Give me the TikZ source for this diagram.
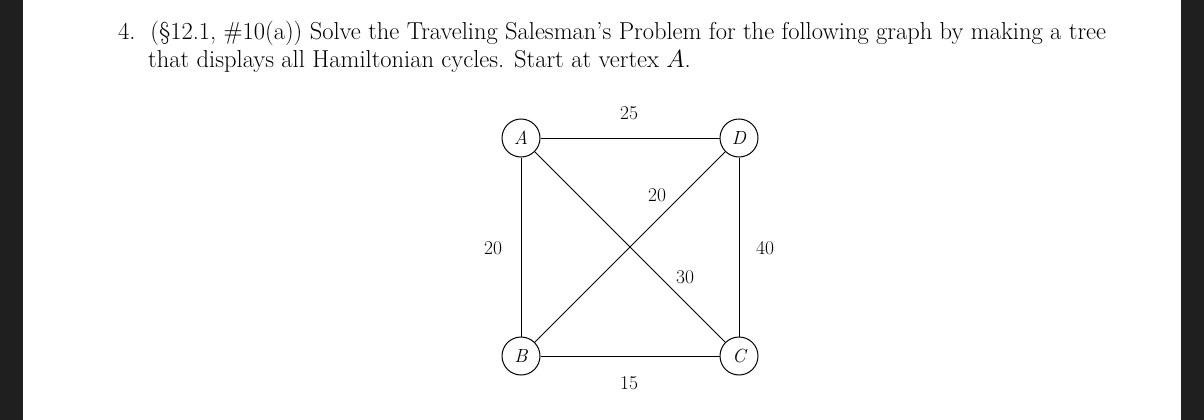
\documentclass[tikz,border=0pt]{standalone}
\begin{document}
\begin{tikzpicture}[x=1pt,y=-1pt,
  vert/.style={circle,draw,line width=1pt,minimum size=38pt,inner sep=0pt,font=\fontsize{19}{22}\selectfont\itshape,fill=white},
  edge/.style={line width=1pt},
  wlab/.style={font=\fontsize{19.5}{22}\selectfont,inner sep=1pt},
  txt/.style={font=\fontsize{24.5}{28}\selectfont,anchor=base west,inner sep=0pt}]
\useasboundingbox (0,0) rectangle (1204,420);
\fill[black!88] (0,0) rectangle (23,420);
\fill[black!88] (1181,0) rectangle (1204,420);
\node[txt] (l1) at (118,40) {4.\ \ (\S12.1, \#10(a)) Solve the Traveling Salesman's Problem for the following graph by making a tree};
\node[txt] (l2) at (148,67) {that displays all Hamiltonian cycles. Start at vertex $A$.};
\node[vert] (A) at (521,138) {A};
\node[vert] (D) at (739,138) {D};
\node[vert] (B) at (521,356) {B};
\node[vert] (C) at (739,356) {C};
\draw[edge] (A) -- (D);
\draw[edge] (B) -- (C);
\draw[edge] (A) -- (B);
\draw[edge] (D) -- (C);
\draw[edge] (A) -- (C);
\draw[edge] (B) -- (D);
\node[wlab] (w1) at (629,113) {25};
\node[wlab] (w2) at (629,383) {15};
\node[wlab] (w3) at (493,248) {20};
\node[wlab] (w4) at (765,248) {40};
\node[wlab] (w5) at (657,195) {20};
\node[wlab] (w6) at (685,277) {30};
\end{tikzpicture}
\end{document}
